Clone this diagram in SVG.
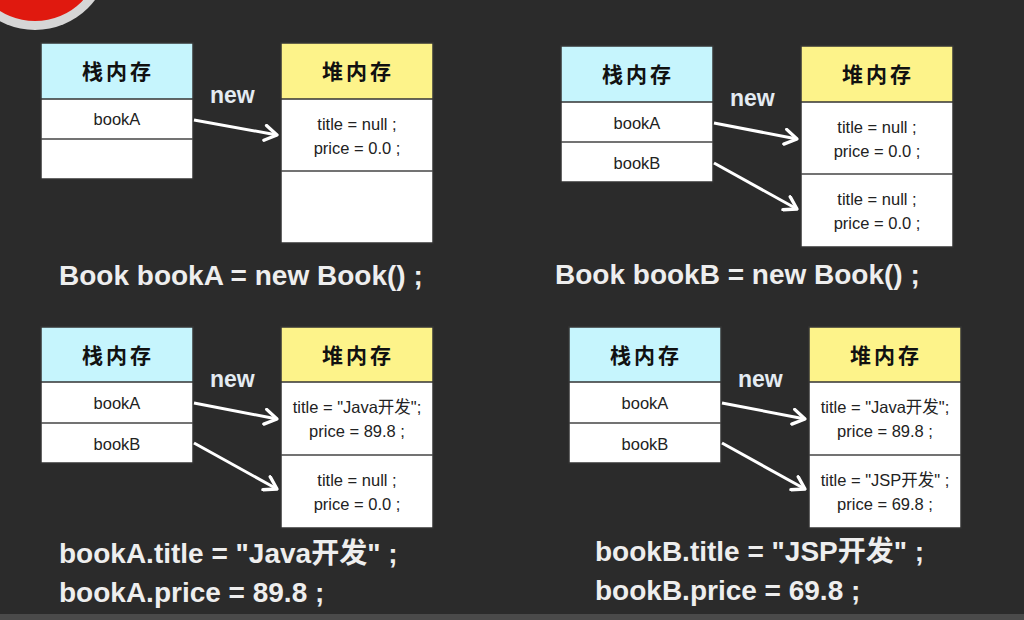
<svg xmlns="http://www.w3.org/2000/svg" width="1024" height="620" viewBox="0 0 1024 620">
<defs>
<style>
.bg{fill:#2b2b2b}
.box{fill:#ffffff;stroke:#333333;stroke-width:1.5}
.sh{fill:#c6f5fd;stroke:#333333;stroke-width:1.5}
.hh{fill:#fdf38a;stroke:#333333;stroke-width:1.5}
.sep{stroke:#444444;stroke-width:1.5}
.hd{font-family:"Noto Sans CJK SC","Noto Sans",sans-serif;font-size:21px;font-weight:bold;fill:#111111;text-anchor:middle;letter-spacing:3px}
.cell{font-family:"Liberation Sans","Noto Sans CJK SC",sans-serif;font-size:16.5px;fill:#222222;text-anchor:middle}
.new{font-family:"Liberation Sans",Arial,sans-serif;font-size:23px;font-weight:bold;fill:#e4ebf2}
.code{font-family:"Liberation Sans","Noto Sans CJK SC",sans-serif;font-size:28px;font-weight:bold;fill:#eeeeee}
.arr{stroke:#ffffff;stroke-width:3;fill:none;marker-end:url(#ah)}
</style>
<marker id="ah" viewBox="0 0 12 12" refX="10" refY="6" markerWidth="6" markerHeight="6" orient="auto" markerUnits="strokeWidth">
<polyline points="2,1 10,6 2,11" fill="none" stroke="#ffffff" stroke-width="2.2" stroke-linecap="round" stroke-linejoin="round"/>
</marker>
</defs>
<rect class="bg" x="0" y="0" width="1024" height="620"/>
<rect x="0" y="614" width="1024" height="6" fill="#4a4a4a"/>
<g id="badge">
<circle cx="35" cy="-45" r="75" fill="#d6d6d6"/>
<circle cx="35" cy="-45" r="66" fill="#e0190f"/>
<circle cx="35" cy="-55" r="50" fill="#b8100a"/>
</g>

<!-- Panel 1 -->
<g id="stack1">
<rect class="box" x="41" y="43" width="152" height="136"/>
<rect class="sh" x="41" y="43" width="152" height="56"/>
<line class="sep" x1="41" y1="139" x2="193" y2="139"/>
<text class="hd" x="118" y="79">栈内存</text>
<text class="cell" x="117" y="125">bookA</text>
</g>
<g id="heap1">
<rect class="box" x="281" y="43" width="152" height="200"/>
<rect class="hh" x="281" y="43" width="152" height="56"/>
<line class="sep" x1="281" y1="171" x2="433" y2="171"/>
<text class="hd" x="358" y="79">堆内存</text>
<text class="cell" x="357" y="130">title = null ;</text>
<text class="cell" x="357" y="154">price = 0.0 ;</text>
</g>
<text class="new" x="210" y="103">new</text>
<text class="code" x="59" y="285">Book bookA = new Book() ;</text>

<!-- Panel 2 -->
<g id="stack2">
<rect class="box" x="561" y="46" width="152" height="136"/>
<rect class="sh" x="561" y="46" width="152" height="56"/>
<line class="sep" x1="561" y1="142" x2="713" y2="142"/>
<text class="hd" x="638" y="82">栈内存</text>
<text class="cell" x="637" y="129">bookA</text>
<text class="cell" x="637" y="169">bookB</text>
</g>
<g id="heap2">
<rect class="box" x="801" y="46" width="152" height="201"/>
<rect class="hh" x="801" y="46" width="152" height="56"/>
<line class="sep" x1="801" y1="174" x2="953" y2="174"/>
<text class="hd" x="878" y="82">堆内存</text>
<text class="cell" x="877" y="133">title = null ;</text>
<text class="cell" x="877" y="157">price = 0.0 ;</text>
<text class="cell" x="877" y="205">title = null ;</text>
<text class="cell" x="877" y="229">price = 0.0 ;</text>
</g>
<text class="new" x="730" y="106">new</text>
<text class="code" x="555" y="284">Book bookB = new Book() ;</text>

<!-- Panel 3 -->
<g id="stack3">
<rect class="box" x="41" y="327" width="152" height="136"/>
<rect class="sh" x="41" y="327" width="152" height="55"/>
<line class="sep" x1="41" y1="423" x2="193" y2="423"/>
<text class="hd" x="118" y="363">栈内存</text>
<text class="cell" x="117" y="409">bookA</text>
<text class="cell" x="117" y="450">bookB</text>
</g>
<g id="heap3">
<rect class="box" x="281" y="327" width="152" height="201"/>
<rect class="hh" x="281" y="327" width="152" height="55"/>
<line class="sep" x1="281" y1="455" x2="433" y2="455"/>
<text class="hd" x="358" y="363">堆内存</text>
<text class="cell" x="357" y="413">title = "Java开发";</text>
<text class="cell" x="357" y="437">price = 89.8 ;</text>
<text class="cell" x="357" y="486">title = null ;</text>
<text class="cell" x="357" y="510">price = 0.0 ;</text>
</g>
<text class="new" x="210" y="387">new</text>
<text class="code" x="59" y="563">bookA.title = "Java开发" ;</text>
<text class="code" x="59" y="602">bookA.price = 89.8 ;</text>

<!-- Panel 4 -->
<g id="stack4">
<rect class="box" x="569" y="327" width="152" height="136"/>
<rect class="sh" x="569" y="327" width="152" height="55"/>
<line class="sep" x1="569" y1="423" x2="721" y2="423"/>
<text class="hd" x="646" y="363">栈内存</text>
<text class="cell" x="645" y="409">bookA</text>
<text class="cell" x="645" y="450">bookB</text>
</g>
<g id="heap4">
<rect class="box" x="809" y="327" width="152" height="201"/>
<rect class="hh" x="809" y="327" width="152" height="55"/>
<line class="sep" x1="809" y1="455" x2="961" y2="455"/>
<text class="hd" x="886" y="363">堆内存</text>
<text class="cell" x="885" y="413">title = "Java开发";</text>
<text class="cell" x="885" y="437">price = 89.8 ;</text>
<text class="cell" x="885" y="486">title = "JSP开发" ;</text>
<text class="cell" x="885" y="510">price = 69.8 ;</text>
</g>
<text class="new" x="738" y="387">new</text>
<text class="code" x="595" y="561">bookB.title = "JSP开发" ;</text>
<text class="code" x="595" y="600">bookB.price = 69.8 ;</text>

<g id="connectors">
<line class="arr" x1="194" y1="120" x2="277" y2="135"/>
<line class="arr" x1="714" y1="123" x2="797" y2="139"/>
<line class="arr" x1="714" y1="163" x2="797" y2="209"/>
<line class="arr" x1="194" y1="403" x2="277" y2="419"/>
<line class="arr" x1="194" y1="443" x2="277" y2="489"/>
<line class="arr" x1="722" y1="403" x2="805" y2="419"/>
<line class="arr" x1="722" y1="443" x2="805" y2="489"/>
</g>
</svg>
